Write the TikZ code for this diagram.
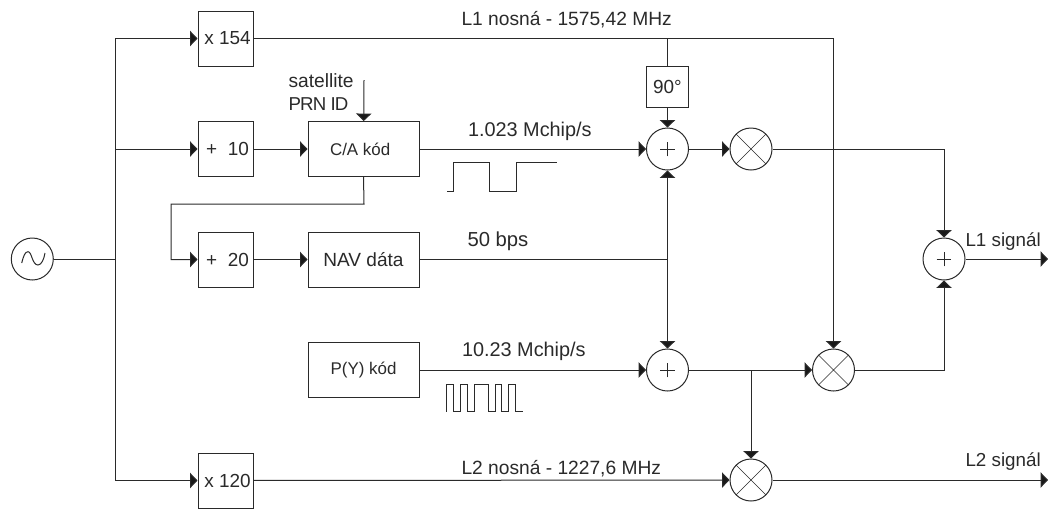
\documentclass[tikz,border=0pt]{standalone}
\usepackage{fontspec}
\setmainfont{Liberation Sans}
\usetikzlibrary{arrows.meta}
\definecolor{ln}{HTML}{2A2A2A}
\tikzset{
 x=0.75pt,y=-0.75pt,
 lbl/.style={inner sep=0pt,text=ln,font=\fontsize{14.4}{16}\selectfont,anchor=base west},
 bx/.style={draw=ln,fill=white,inner sep=0pt,minimum width=41.25pt,minimum height=41.25pt,text=ln,font=\fontsize{14.2}{16}\selectfont},
 wbx/.style={bx,minimum width=83.25pt,font=\fontsize{12.7}{16}\selectfont},
 sq/.style={bx,minimum width=31.5pt,minimum height=31pt},
 circ/.style={circle,draw=ln,fill=white,inner sep=0pt,minimum size=31.5pt},
 pluscirc/.style={circ,path picture={\draw[line width=0.4pt] ([xshift=-5.5pt]path picture bounding box.center)--([xshift=5.5pt]path picture bounding box.center) ([yshift=-5.5pt]path picture bounding box.center)--([yshift=5.5pt]path picture bounding box.center);}},
 mulcirc/.style={circ,path picture={\draw[line width=0.5pt] (path picture bounding box.north west)--(path picture bounding box.south east) (path picture bounding box.north east)--(path picture bounding box.south west);}},
 arr/.style={-{Triangle[length=5.6pt,width=11.5pt,fill=black!90]}},
}
\begin{document}
\begin{tikzpicture}[line width=0.75pt,color=ln]
\useasboundingbox (0,0) rectangle (1048,508);
% nodes
\node[circ] (osc) at (32.3,259) {};
\node[bx] (x154) at (225.5,38.5) {\kern3pt x 154};
\node[bx] (p10) at (225.5,149) {\kern3pt +\ \ 10};
\node[bx] (p20) at (225.5,259.5) {\kern3pt +\ \ 20};
\node[bx] (x120) at (225.5,480.5) {\kern3pt x 120};
\node[wbx] (ca) at (363.5,149) {C/A kód\kern5pt};
\node[wbx,font=\fontsize{14.3}{16}\selectfont] (nav) at (363.5,259.5) {NAV dáta};
\node[wbx] (py) at (363.5,370) {P(Y) kód};
\node[sq] (ph) at (667.5,87) {90°};
\node[pluscirc] (s1) at (667.5,149) {};
\node[mulcirc] (m1) at (751,149) {};
\node[pluscirc] (s2) at (667.5,370) {};
\node[mulcirc] (m2) at (833.5,370) {};
\node[mulcirc] (m3) at (751,480) {};
\node[pluscirc] (s3) at (944,259) {};
% helper coordinates
\coordinate (t0) at (115,259);
\coordinate (t1) at (115,38.5);
\coordinate (t2) at (115,149);
\coordinate (t3) at (115,480.5);
\coordinate (top) at (667.5,38.5);
\coordinate (cr) at (833.5,38.5);
\coordinate (nj) at (667.5,259.5);
\coordinate (j2) at (751,370);
\coordinate (sat) at (364,80);
\coordinate (c1) at (364,204);
\coordinate (c2) at (171,204);
\coordinate (c3) at (171,259.5);
\coordinate (e1) at (1048,259);
\coordinate (e2) at (1048,480);
% connectors
\draw (osc) -- (t0);
\draw (t1) -- (t3);
\draw[arr] (t1) -- (x154);
\draw[arr] (t2) -- (p10);
\draw[arr] (t3) -- (x120);
\draw[arr] (p10) -- (ca);
\draw[arr] (sat) -- (ca);
\draw[arr] (ca.south) -- (c1) -- (c2) -- (c3) -- (p20);
\draw[arr] (p20) -- (nav);
\draw (x154) -- (cr);
\draw[arr] (cr) -- (m2);
\draw (top) -- (ph);
\draw[arr] (ph) -- (s1);
\draw[arr] (ca) -- (s1);
\draw[arr] (s1) -- (m1);
\draw (nav) -- (nj);
\draw[arr] (nj) -- (s1);
\draw[arr] (nj) -- (s2);
\draw[arr] (py) -- (s2);
\draw[arr] (s2) -- (m2);
\draw[arr] (j2) -- (m3);
\draw[arr] (x120) -- (m3);
\draw[arr] (m1) -| (s3);
\draw[arr] (m2) -| (s3);
\draw[arr] (s3) -- (e1);
\draw[arr] (m3) -- (e2);
% oscillator glyph
\draw[line width=0.75pt] (21.7,263) .. controls (23.5,256) and (25,251.7) .. (28,251.7) .. controls (32,251.7) and (32,265) .. (38,265) .. controls (41.5,265) and (44,259) .. (45,253);
% waveforms
\draw[line width=0.6pt] (447,191) -- (453.5,191) -- (453.5,162.5) -- (489,162.5) -- (489,191) -- (516,191) -- (516,162.5) -- (557,162.5);
\draw[line width=0.5pt] (446.3,411.7) -- (446.3,384) -- (453.7,384) -- (453.7,411.7) -- (460.3,411.7) -- (460.3,384) -- (467.3,384) -- (467.3,411.7) -- (474.3,411.7) -- (474.3,384) -- (488.3,384) -- (488.3,411.7) -- (495,411.7) -- (495,384) -- (501.7,384) -- (501.7,411.7) -- (508.3,411.7) -- (508.3,384) -- (515.7,384) -- (515.7,411.7) -- (522.7,411.7);
% labels
\node[lbl] (l1) at (461,25) {L1 nosná - 1575,42 MHz};
\node[lbl,font=\fontsize{14.9}{16}\selectfont] (l2) at (467.5,136) {1.023 Mchip/s};
\node[lbl,font=\fontsize{15.2}{16}\selectfont] (l3) at (467,246) {50 bps};
\node[lbl,font=\fontsize{14.9}{16}\selectfont] (l4) at (461.5,356.7) {10.23 Mchip/s};
\node[lbl] (l5) at (461,474) {L2 nosná - 1227,6 MHz};
\node[lbl,font=\fontsize{14.1}{16}\selectfont] (l6) at (965,246) {L1 signál};
\node[lbl,font=\fontsize{14.1}{16}\selectfont] (l7) at (965,466.7) {L2 signál};
\node[lbl] (l8) at (288,87) {satellite};
\node[lbl,font=\fontsize{14}{16}\selectfont\addfontfeature{LetterSpace=-4.5}] (l9) at (288,110) {PRN ID};
\end{tikzpicture}
\end{document}
